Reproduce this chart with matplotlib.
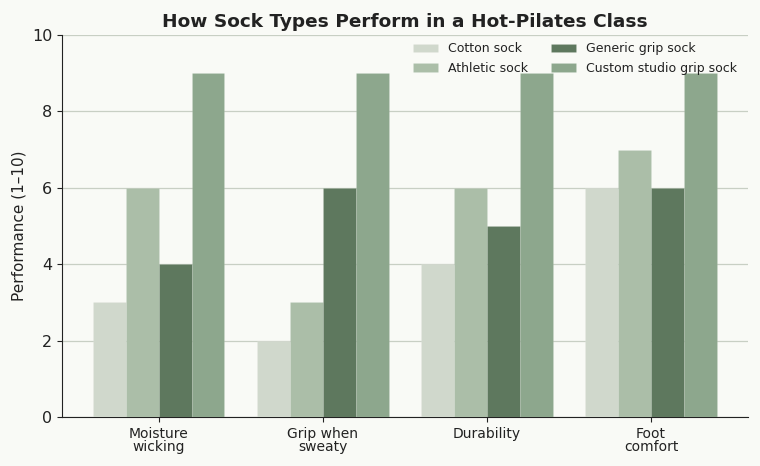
import matplotlib
matplotlib.use("Agg")
import matplotlib.pyplot as plt
import numpy as np

categories = ["Moisture\nwicking", "Grip when\nsweaty", "Durability", "Foot\ncomfort"]
series_names = ["Cotton sock", "Athletic sock", "Generic grip sock", "Custom studio grip sock"]
cotton = [3, 2, 4, 6]
athletic = [6, 3, 6, 7]
generic = [4, 6, 5, 6]
custom = [9, 9, 9, 9]
colors = ["#d0d8cc", "#abbea8", "#5e785e", "#8da78d"]

bg = "#f9faf6"
txt = "#222222"
plt.rcParams['text.color'] = txt
plt.rcParams['axes.labelcolor'] = txt
plt.rcParams['xtick.color'] = txt
plt.rcParams['ytick.color'] = txt

fig = plt.figure(figsize=(7.6, 4.66), dpi=100, facecolor=bg)
ax = fig.add_axes([0.0816, 0.105, 0.9024, 0.820])
ax.set_facecolor(bg)

x = np.arange(len(categories))
w = 0.2
for i, (vals, name, c) in enumerate(zip([cotton, athletic, generic, custom], series_names, colors)):
    ax.bar(x + (i - 1.5) * w, vals, w, color=c, label=name, zorder=3,
           edgecolor=(1, 1, 1, 0.12), linewidth=0.5)

ax.set_ylim(0, 10)
ax.set_yticks([0, 2, 4, 6, 8, 10])
ax.set_xticks(x)
ax.set_xticklabels(categories, fontsize=10, linespacing=0.95)
ax.tick_params(axis='y', labelsize=11.5)
ax.grid(axis='y', color='#c8cfc4', linewidth=0.9, zorder=0)
ax.set_axisbelow(True)
for s in ["top", "right"]:
    ax.spines[s].set_visible(False)
ax.spines["left"].set_color(txt)
ax.spines["bottom"].set_color(txt)
ax.set_ylabel("Performance (1–10)", fontsize=11)
ax.set_title("How Sock Types Perform in a Hot-Pilates Class", fontsize=13.3, fontweight='bold', pad=6)
ax.legend(ncol=2, frameon=False, fontsize=9, loc='upper right', bbox_to_anchor=(1.0, 1.01),
          handlelength=2.0, columnspacing=1.8)

fig.savefig("out.png", dpi=100, facecolor=bg)
